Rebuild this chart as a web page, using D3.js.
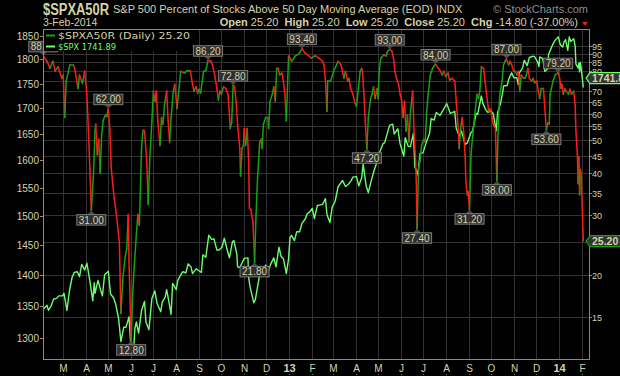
<!DOCTYPE html>
<html>
<head>
<meta charset="utf-8">
<script src="https://cdn.jsdelivr.net/npm/d3@7"></script>
<style>
  body { margin: 0; background: #000; }
  svg { display: block; }
</style>
</head>
<body>
<div id="chart"></div>
<script>
/* DATA */
// $SPX daily close (approx)
const spx = [
  ["2012-02-03",1345],["2012-02-08",1351],["2012-02-10",1343],["2012-02-14",1351],["2012-02-17",1361],
  ["2012-02-21",1362],["2012-02-24",1366],["2012-02-29",1366],["2012-03-02",1370],["2012-03-06",1343],
  ["2012-03-09",1371],["2012-03-13",1396],["2012-03-16",1404],["2012-03-20",1405],["2012-03-23",1397],
  ["2012-03-26",1417],["2012-03-30",1408],["2012-04-02",1419],["2012-04-05",1398],["2012-04-10",1358],
  ["2012-04-12",1387],["2012-04-13",1370],["2012-04-17",1391],["2012-04-20",1378],["2012-04-23",1366],
  ["2012-04-26",1400],["2012-05-01",1406],["2012-05-04",1369],["2012-05-08",1363],["2012-05-11",1353],
  ["2012-05-15",1330],["2012-05-18",1295],["2012-05-22",1317],["2012-05-25",1317],["2012-05-29",1333],
  ["2012-06-01",1278],["2012-06-04",1278],["2012-06-06",1315],["2012-06-08",1325],["2012-06-11",1308],
  ["2012-06-15",1343],["2012-06-19",1357],["2012-06-21",1325],["2012-06-25",1313],["2012-06-29",1362],
  ["2012-07-03",1374],["2012-07-06",1354],["2012-07-11",1341],["2012-07-13",1356],["2012-07-17",1364],
  ["2012-07-19",1376],["2012-07-23",1350],["2012-07-25",1337],["2012-07-27",1386],["2012-08-01",1376],
  ["2012-08-03",1391],["2012-08-08",1402],["2012-08-10",1405],["2012-08-14",1403],["2012-08-17",1418],
  ["2012-08-21",1413],["2012-08-23",1402],["2012-08-28",1410],["2012-08-31",1407],["2012-09-04",1404],
  ["2012-09-06",1433],["2012-09-10",1429],["2012-09-14",1466],["2012-09-18",1459],["2012-09-21",1460],
  ["2012-09-25",1441],["2012-09-28",1441],["2012-10-02",1446],["2012-10-05",1461],["2012-10-09",1441],
  ["2012-10-12",1428],["2012-10-16",1455],["2012-10-18",1457],["2012-10-22",1434],["2012-10-23",1413],
  ["2012-10-26",1412],["2012-11-01",1427],["2012-11-06",1428],["2012-11-07",1395],["2012-11-09",1380],
  ["2012-11-14",1355],["2012-11-16",1360],["2012-11-20",1387],["2012-11-23",1409],["2012-11-26",1406],
  ["2012-11-30",1416],["2012-12-04",1407],["2012-12-07",1418],["2012-12-11",1428],["2012-12-14",1413],
  ["2012-12-18",1446],["2012-12-21",1430],["2012-12-24",1427],["2012-12-28",1402],["2012-12-31",1426],
  ["2013-01-02",1462],["2013-01-04",1466],["2013-01-08",1457],["2013-01-11",1472],["2013-01-15",1472],
  ["2013-01-18",1486],["2013-01-23",1495],["2013-01-25",1503],["2013-01-29",1507],["2013-02-01",1513],
  ["2013-02-04",1495],["2013-02-08",1518],["2013-02-12",1519],["2013-02-15",1520],["2013-02-19",1530],
  ["2013-02-21",1502],["2013-02-25",1488],["2013-02-28",1515],["2013-03-04",1525],["2013-03-08",1551],
  ["2013-03-14",1563],["2013-03-18",1552],["2013-03-22",1556],["2013-03-26",1563],["2013-03-28",1569],
  ["2013-04-02",1570],["2013-04-05",1553],["2013-04-09",1568],["2013-04-11",1593],["2013-04-15",1553],
  ["2013-04-18",1541],["2013-04-22",1563],["2013-04-26",1582],["2013-04-30",1598],["2013-05-03",1614],
  ["2013-05-08",1632],["2013-05-10",1633],["2013-05-15",1658],["2013-05-17",1667],["2013-05-21",1669],
  ["2013-05-23",1650],["2013-05-28",1660],["2013-05-31",1631],["2013-06-05",1608],["2013-06-07",1643],
  ["2013-06-11",1626],["2013-06-14",1626],["2013-06-18",1651],["2013-06-20",1588],["2013-06-24",1573],
  ["2013-06-27",1613],["2013-07-01",1614],["2013-07-05",1632],["2013-07-10",1652],["2013-07-12",1680],
  ["2013-07-16",1677],["2013-07-19",1692],["2013-07-24",1686],["2013-07-26",1691],["2013-08-01",1706],
  ["2013-08-02",1710],["2013-08-07",1690],["2013-08-09",1691],["2013-08-13",1694],["2013-08-15",1661],
  ["2013-08-19",1646],["2013-08-22",1656],["2013-08-27",1630],["2013-08-30",1633],["2013-09-04",1653],
  ["2013-09-06",1655],["2013-09-11",1690],["2013-09-13",1688],["2013-09-18",1725],["2013-09-20",1710],
  ["2013-09-24",1697],["2013-09-27",1692],["2013-10-01",1695],["2013-10-04",1690],["2013-10-08",1656],
  ["2013-10-10",1692],["2013-10-14",1710],["2013-10-17",1733],["2013-10-18",1745],["2013-10-23",1746],
  ["2013-10-25",1759],["2013-10-29",1772],["2013-11-01",1762],["2013-11-05",1762],["2013-11-07",1748],
  ["2013-11-08",1771],["2013-11-13",1783],["2013-11-15",1798],["2013-11-19",1787],["2013-11-22",1804],
  ["2013-11-27",1807],["2013-11-29",1806],["2013-12-03",1795],["2013-12-05",1785],["2013-12-06",1805],
  ["2013-12-10",1802],["2013-12-13",1775],["2013-12-17",1781],["2013-12-18",1811],["2013-12-20",1818],
  ["2013-12-24",1833],["2013-12-27",1841],["2013-12-31",1848],["2014-01-03",1831],["2014-01-06",1826],
  ["2014-01-08",1837],["2014-01-10",1842],["2014-01-13",1819],["2014-01-15",1848],["2014-01-17",1838],
  ["2014-01-21",1844],["2014-01-23",1828],["2014-01-24",1790],["2014-01-27",1782],["2014-01-28",1792],
  ["2014-01-29",1774],["2014-01-30",1794],["2014-01-31",1783],["2014-02-03",1741.89]
];

// $SPXA50R, percent of stocks above their 50 day MA
const breadth = [
  ["2012-02-03",88.8],["2012-02-08",85.6],["2012-02-12",81.6],["2012-02-16",85.6],["2012-02-19",80.0],
  ["2012-02-23",82.5],["2012-02-28",76.2],["2012-03-01",78.0],["2012-03-03",58.4],["2012-03-05",74.8],
  ["2012-03-10",83.5],["2012-03-15",83.5],["2012-03-17",80.3],["2012-03-21",71.1],["2012-03-23",78.0],
  ["2012-03-27",73.6],["2012-03-30",80.0],["2012-04-02",68.4],["2012-04-04",54.2],["2012-04-06",41.3],
  ["2012-04-08",31.0],["2012-04-11",40.0],["2012-04-13",53.3],["2012-04-14",55.8],["2012-04-16",45.3],
  ["2012-04-18",50.4],["2012-04-20",40.0],["2012-04-22",52.0],["2012-04-24",57.1],["2012-04-27",59.4],
  ["2012-04-29",58.7],["2012-05-01",62.0],["2012-05-03",54.2],["2012-05-05",41.3],["2012-05-07",37.2],
  ["2012-05-09",33.7],["2012-05-12",30.2],["2012-05-16",24.9],["2012-05-18",15.4],["2012-05-21",19.9],
  ["2012-05-24",22.7],["2012-05-26",24.0],["2012-05-28",30.2],["2012-05-29",22.0],["2012-06-01",12.8],
  ["2012-06-03",17.7],["2012-06-05",21.0],["2012-06-08",26.4],["2012-06-10",30.2],["2012-06-12",28.0],
  ["2012-06-15",47.3],["2012-06-17",53.6],["2012-06-19",53.3],["2012-06-22",43.5],["2012-06-24",32.3],
  ["2012-06-26",43.5],["2012-06-29",57.1],["2012-07-01",69.9],["2012-07-03",65.2],["2012-07-05",69.9],
  ["2012-07-07",57.1],["2012-07-10",48.3],["2012-07-12",58.4],["2012-07-14",55.8],["2012-07-16",63.5],
  ["2012-07-19",69.9],["2012-07-21",57.1],["2012-07-23",49.4],["2012-07-25",58.4],["2012-07-28",69.9],
  ["2012-07-30",73.2],["2012-08-02",62.1],["2012-08-07",80.0],["2012-08-12",79.0],["2012-08-16",80.3],
  ["2012-08-20",80.3],["2012-08-23",73.2],["2012-08-25",69.9],["2012-08-28",72.0],["2012-08-30",69.0],
  ["2012-09-01",70.8],["2012-09-03",69.0],["2012-09-07",80.0],["2012-09-10",80.3],["2012-09-13",86.2],
  ["2012-09-17",85.6],["2012-09-19",83.5],["2012-09-22",78.0],["2012-09-25",71.1],["2012-09-27",65.7],
  ["2012-09-29",69.9],["2012-10-01",68.4],["2012-10-04",72.0],["2012-10-07",71.1],["2012-10-10",68.4],
  ["2012-10-12",59.4],["2012-10-13",54.2],["2012-10-15",56.4],["2012-10-17",72.8],["2012-10-19",72.0],
  ["2012-10-21",65.2],["2012-10-23",55.8],["2012-10-26",47.3],["2012-10-27",39.2],["2012-10-29",47.3],
  ["2012-10-31",48.3],["2012-11-01",54.2],["2012-11-03",48.3],["2012-11-05",54.2],["2012-11-07",43.5],
  ["2012-11-08",31.5],["2012-11-10",31.2],["2012-11-13",28.4],["2012-11-15",21.8],["2012-11-17",30.2],
  ["2012-11-19",38.6],["2012-11-22",49.4],["2012-11-24",50.4],["2012-11-25",47.3],["2012-11-27",55.8],
  ["2012-11-30",58.4],["2012-12-03",58.4],["2012-12-04",54.2],["2012-12-06",65.2],["2012-12-09",68.4],
  ["2012-12-11",72.0],["2012-12-13",65.2],["2012-12-15",81.6],["2012-12-17",81.6],["2012-12-19",78.0],
  ["2012-12-22",79.0],["2012-12-24",74.8],["2012-12-26",68.4],["2012-12-28",57.1],["2012-12-31",88.7],
  ["2013-01-02",87.4],["2013-01-04",85.6],["2013-01-07",87.4],["2013-01-09",88.7],["2013-01-12",89.5],
  ["2013-01-15",90.6],["2013-01-18",93.4],["2013-01-22",90.6],["2013-01-26",89.5],["2013-01-31",87.4],
  ["2013-02-04",88.7],["2013-02-06",88.7],["2013-02-10",87.4],["2013-02-15",85.6],["2013-02-17",83.5],
  ["2013-02-19",74.8],["2013-02-21",60.8],["2013-02-22",74.8],["2013-02-26",74.8],["2013-03-02",80.0],
  ["2013-03-06",83.5],["2013-03-08",85.6],["2013-03-12",83.5],["2013-03-14",80.0],["2013-03-16",76.2],
  ["2013-03-18",80.0],["2013-03-21",74.8],["2013-03-23",76.2],["2013-03-25",71.1],["2013-03-28",68.4],
  ["2013-03-31",64.4],["2013-04-02",63.0],["2013-04-05",73.2],["2013-04-07",80.0],["2013-04-09",81.6],
  ["2013-04-10",80.0],["2013-04-12",68.4],["2013-04-14",55.8],["2013-04-16",47.2],["2013-04-18",58.4],
  ["2013-04-21",66.4],["2013-04-23",68.4],["2013-04-25",72.0],["2013-04-27",66.4],["2013-04-30",71.1],
  ["2013-05-01",66.4],["2013-05-03",81.6],["2013-05-05",87.4],["2013-05-09",89.5],["2013-05-12",88.7],
  ["2013-05-14",91.6],["2013-05-17",93.0],["2013-05-20",91.6],["2013-05-22",87.4],["2013-05-24",80.0],
  ["2013-05-26",76.2],["2013-05-29",73.2],["2013-05-31",68.4],["2013-06-02",65.7],["2013-06-04",58.4],
  ["2013-06-06",65.2],["2013-06-08",53.3],["2013-06-10",59.4],["2013-06-12",49.4],["2013-06-14",60.8],
  ["2013-06-16",66.4],["2013-06-17",69.9],["2013-06-19",52.0],["2013-06-21",43.5],["2013-06-22",37.2],
  ["2013-06-23",27.4],["2013-06-25",41.3],["2013-06-27",43.5],["2013-06-29",48.3],["2013-07-02",50.4],
  ["2013-07-04",49.4],["2013-07-06",60.8],["2013-07-08",68.4],["2013-07-11",78.0],["2013-07-14",81.6],
  ["2013-07-18",84.0],["2013-07-21",82.0],["2013-07-24",80.5],["2013-07-27",78.0],["2013-07-29",80.0],
  ["2013-08-01",77.1],["2013-08-04",79.0],["2013-08-06",75.3],["2013-08-09",76.2],["2013-08-13",74.8],
  ["2013-08-15",65.2],["2013-08-18",53.3],["2013-08-19",47.3],["2013-08-21",54.2],["2013-08-23",58.4],
  ["2013-08-25",53.3],["2013-08-27",45.3],["2013-08-28",37.9],["2013-08-30",34.5],["2013-08-31",35.3],
  ["2013-09-02",31.2],["2013-09-04",45.3],["2013-09-05",48.3],["2013-09-07",53.3],["2013-09-09",59.4],
  ["2013-09-12",68.4],["2013-09-14",66.4],["2013-09-16",69.9],["2013-09-18",82.5],["2013-09-21",81.6],
  ["2013-09-23",74.8],["2013-09-25",68.4],["2013-09-28",60.8],["2013-09-30",62.0],["2013-10-02",59.4],
  ["2013-10-04",55.8],["2013-10-07",54.2],["2013-10-08",45.3],["2013-10-09",38.0],["2013-10-11",57.1],
  ["2013-10-13",68.4],["2013-10-16",74.8],["2013-10-18",83.5],["2013-10-20",85.6],["2013-10-22",87.0],
  ["2013-10-25",83.5],["2013-10-27",85.6],["2013-10-29",83.5],["2013-11-01",80.0],["2013-11-03",80.0],
  ["2013-11-05",78.0],["2013-11-07",80.0],["2013-11-09",69.9],["2013-11-11",78.0],["2013-11-14",76.2],
  ["2013-11-16",76.2],["2013-11-18",78.0],["2013-11-20",81.6],["2013-11-22",76.2],["2013-11-25",74.8],
  ["2013-11-27",76.2],["2013-11-29",73.9],["2013-12-02",74.8],["2013-12-04",69.9],["2013-12-06",66.4],
  ["2013-12-08",71.1],["2013-12-11",71.1],["2013-12-13",62.1],["2013-12-15",53.6],["2013-12-17",56.4],
  ["2013-12-19",55.8],["2013-12-20",68.4],["2013-12-24",74.8],["2013-12-27",78.0],["2013-12-31",79.2],
  ["2014-01-02",76.2],["2014-01-04",71.1],["2014-01-05",73.2],["2014-01-07",68.4],["2014-01-09",71.1],
  ["2014-01-11",69.9],["2014-01-14",68.4],["2014-01-16",70.8],["2014-01-18",68.4],["2014-01-21",69.9],
  ["2014-01-23",63.5],["2014-01-24",53.3],["2014-01-26",45.3],["2014-01-27",37.2],["2014-01-28",44.6],
  ["2014-01-29",34.5],["2014-01-30",41.0],["2014-01-31",40.0],["2014-02-03",25.2]
];

// swing labels drawn on the breadth line
const peakDates = ["2012-02-03","2012-05-01","2012-09-13","2012-10-17","2013-01-18","2013-05-17",
  "2013-07-18","2013-10-22","2013-12-31"];
const troughDates = ["2012-04-08","2012-06-01","2012-11-15","2013-04-16","2013-06-23","2013-09-02",
  "2013-10-09","2013-12-15"];

const spxTicks = [1300, 1350, 1400, 1450, 1500, 1550, 1600, 1650, 1700, 1750, 1800, 1850];
const pctTicks = [15, 20, 25, 30, 35, 40, 45, 50, 55, 60, 65, 70, 75, 80, 85, 90, 95];

const header = {
  symbol: "$SPXA50R",
  name: "S&P 500 Percent of Stocks Above 50 Day Moving Average (EOD)",
  exch: "INDX",
  date: "3-Feb-2014",
  quote: [["Open", "25.20"], ["High", "25.20"], ["Low", "25.20"], ["Close", "25.20"], ["Chg", "-14.80 (-37.00%)"]]
};

/* SETUP */
const width = 620, height = 376;
const margin = { top: 29, right: 31, bottom: 17, left: 43 };
const plotW = width - margin.left - margin.right,
  plotH = height - margin.top - margin.bottom;

const TXT = "#d6d2a8", GRID = "#333333", FRAME = "#8a8a8a";
const RED = "#ff1a1a", DKGREEN = "#13a313", LTGREEN = "#6cff6c";
const FONT = "'Liberation Sans', Arial, sans-serif";

const parseDate = d3.timeParse("%Y-%m-%d");
const spxData = spx.map(([d, v]) => ({ date: parseDate(d), value: v }));
const brData = breadth.map(([d, v]) => ({ date: parseDate(d), value: v }));
const spxLast = spxData[spxData.length - 1], brLast = brData[brData.length - 1];

const svg = d3.select("#chart")
  .append("svg")
  .attr("width", width)
  .attr("height", height)
  .style("background", "#000")
  .style("font-family", FONT);

// SCALES
const xScale = d3.scaleTime()
  .domain([parseDate("2012-02-03"), parseDate("2014-02-03")])
  .range([margin.left + 0.3, margin.left + plotW - 5.7]);

const ySpx = d3.scaleLog()
  .domain([1269, 1865])
  .range([margin.top + plotH, margin.top]);

const yPct = d3.scaleLog()
  .domain([11.3, 106.6])
  .range([margin.top + plotH, margin.top]);

// last value tags sit on the right axis (the $SPX one is lifted a little, as on the original)
const spxTagY = ySpx(spxLast.value) - 9.5;
const brTagY = yPct(brLast.value);

// GRID
const months = d3.timeMonth.range(parseDate("2012-03-01"), parseDate("2014-02-04"));

svg.append("g")
  .selectAll("line")
  .data(pctTicks)
  .join("line")
  .attr("x1", margin.left).attr("x2", margin.left + plotW)
  .attr("y1", d => Math.round(yPct(d)) + 0.5).attr("y2", d => Math.round(yPct(d)) + 0.5)
  .attr("stroke", GRID);

svg.append("g")
  .selectAll("line")
  .data(months)
  .join("line")
  .attr("x1", d => Math.round(xScale(d)) + 0.5).attr("x2", d => Math.round(xScale(d)) + 0.5)
  .attr("y1", margin.top).attr("y2", margin.top + plotH)
  .attr("stroke", GRID);

// CLIP
svg.append("clipPath").attr("id", "plotclip")
  .append("rect")
  .attr("x", margin.left).attr("y", margin.top)
  .attr("width", plotW).attr("height", plotH);

const plotG = svg.append("g").attr("clip-path", "url(#plotclip)");

// SPX LINE
plotG.append("path")
  .datum(spxData)
  .attr("d", d3.line().x(d => xScale(d.date)).y(d => ySpx(d.value)))
  .attr("fill", "none")
  .attr("stroke", LTGREEN)
  .attr("stroke-width", 1.4)
  .attr("stroke-linejoin", "round");

// BREADTH LINE, green when rising and red when falling
plotG.append("g")
  .selectAll("line")
  .data(d3.pairs(brData))
  .join("line")
  .attr("x1", d => xScale(d[0].date)).attr("y1", d => yPct(d[0].value))
  .attr("x2", d => xScale(d[1].date)).attr("y2", d => yPct(d[1].value))
  .attr("stroke", d => d[1].value >= d[0].value ? DKGREEN : RED)
  .attr("stroke-width", 1.5)
  .attr("stroke-linecap", "round");

// SWING LABELS
const brByDate = new Map(brData.map(d => [d3.timeFormat("%Y-%m-%d")(d.date), d]));
const swings = peakDates.map(k => ({ p: brByDate.get(k), up: true }))
  .concat(troughDates.map(k => ({ p: brByDate.get(k), up: false })));

const swingG = svg.append("g");
swings.forEach(s => {
  const px = xScale(s.p.date), py = yPct(s.p.value);
  const dir = s.up ? -1 : 1;
  const g = swingG.append("g");
  g.append("path")
    .attr("d", `M${px},${py} L${px - 4},${py + dir * 4} L${px + 4},${py + dir * 4} Z`)
    .attr("fill", "#4a4a4a");
  const boxTop = s.up ? py - 14.5 : py + 4;
  const rect = g.append("rect")
    .attr("y", boxTop).attr("height", 10.5)
    .attr("fill", "#2e2e2e").attr("stroke", "#7a7a7a").attr("stroke-width", 1);
  const t = g.append("text")
    .attr("x", px).attr("y", boxTop + 9)
    .attr("text-anchor", "middle")
    .style("font-size", "10px")
    .style("fill", TXT)
    .text(s.p.value.toFixed(2));
  const tw = t.node().getComputedTextLength();
  rect.attr("x", px - tw / 2 - 2).attr("width", tw + 4);
});

// LEGEND (black box over the plot corner)
const legend = svg.append("g");
legend.append("rect")
  .attr("x", margin.left + 1).attr("y", margin.top + 1)
  .attr("width", 148).attr("height", 21)
  .attr("fill", "#000");
const legendRows = [
  { color: DKGREEN, label: `${header.symbol} (Daily) ${brLast.value.toFixed(2)}`, text: TXT, w: 132 },
  { color: LTGREEN, label: `$SPX ${spxLast.value.toFixed(2)}`, text: LTGREEN, w: 58 }
];
legendRows.forEach((r, i) => {
  legend.append("line")
    .attr("x1", 46).attr("x2", 55)
    .attr("y1", 35.5 + i * 11).attr("y2", 35.5 + i * 11)
    .attr("stroke", r.color).attr("stroke-width", 2);
  legend.append("text")
    .attr("x", 58).attr("y", 39 + i * 11)
    .attr("textLength", r.w).attr("lengthAdjust", "spacingAndGlyphs")
    .style("font-family", "'DejaVu Sans', Verdana, sans-serif")
    .style("font-size", "9.5px")
    .style("fill", r.text)
    .text(r.label);
});

// FRAME
svg.append("rect")
  .attr("x", margin.left + 0.5).attr("y", margin.top + 0.5)
  .attr("width", plotW).attr("height", plotH)
  .attr("fill", "none").attr("stroke", FRAME);

// LEFT AXIS ($SPX)
const leftAxis = svg.append("g");
spxTicks.forEach(v => {
  const y = Math.round(ySpx(v)) + 0.5;
  leftAxis.append("line").attr("x1", margin.left - 3).attr("x2", margin.left)
    .attr("y1", y).attr("y2", y).attr("stroke", FRAME);
  leftAxis.append("text")
    .attr("x", margin.left - 4).attr("y", y + 3.5)
    .attr("text-anchor", "end")
    .style("font-size", "10px").style("fill", TXT)
    .text(v);
});

// RIGHT AXIS (percent), labels under a value tag are hidden
const rightAxis = svg.append("g");
pctTicks.forEach(v => {
  const y = Math.round(yPct(v)) + 0.5;
  rightAxis.append("line").attr("x1", margin.left + plotW).attr("x2", margin.left + plotW + 3)
    .attr("y1", y).attr("y2", y).attr("stroke", FRAME);
  if (Math.abs(y - spxTagY) < 6 || Math.abs(y - brTagY) < 6) return;
  rightAxis.append("text")
    .attr("x", margin.left + plotW + 3).attr("y", y + 3.2)
    .style("font-size", "9px").style("fill", TXT)
    .text(v);
});

// BOTTOM AXIS (months)
const bottomAxis = svg.append("g");
months.forEach(m => {
  const x = Math.round(xScale(m)) + 0.5;
  const isYear = m.getMonth() === 0;
  bottomAxis.append("text")
    .attr("x", x).attr("y", 372)
    .attr("text-anchor", "middle")
    .style("font-size", isYear ? "11px" : "10px")
    .style("font-weight", isYear ? "bold" : "normal")
    .style("fill", TXT)
    .text(isYear ? d3.timeFormat("%y")(m) : d3.timeFormat("%b")(m)[0]);
  bottomAxis.append("rect")
    .attr("x", x - 0.5).attr("y", 374).attr("width", 1).attr("height", 1)
    .attr("fill", "#777");
});

// LAST VALUE TAGS
function valueTag(y, label, stroke) {
  const g = svg.append("g");
  const x0 = margin.left + plotW - 3;
  g.append("path")
    .attr("d", `M${x0},${y} L${x0 + 4},${y - 5.5} L${width + 5},${y - 5.5} L${width + 5},${y + 5.5} L${x0 + 4},${y + 5.5} Z`)
    .attr("fill", "#333").attr("stroke", stroke).attr("stroke-width", 1.2);
  g.append("text")
    .attr("x", x0 + 6).attr("y", y + 4)
    .style("font-size", "10.5px").style("font-weight", "bold").style("fill", TXT)
    .text(label);
}
valueTag(spxTagY, spxLast.value.toFixed(2), LTGREEN);
valueTag(brTagY, brLast.value.toFixed(2), DKGREEN);

// HEADER
svg.append("text")
  .attr("x", 43).attr("y", 15)
  .attr("textLength", 66).attr("lengthAdjust", "spacingAndGlyphs")
  .style("font-size", "16px").style("font-weight", "bold")
  .style("fill", TXT)
  .text(header.symbol);

svg.append("text")
  .attr("x", 113).attr("y", 13)
  .style("font-size", "11px").style("fill", TXT)
  .text(`${header.name} ${header.exch}`);

svg.append("text")
  .attr("x", 588).attr("y", 13)
  .attr("text-anchor", "end")
  .style("font-size", "11px").style("fill", "#8c8c8c")
  .text("\u00A9 StockCharts.com");

svg.append("text")
  .attr("x", 43).attr("y", 26)
  .style("font-size", "10.5px").style("fill", TXT)
  .text(header.date);

const quote = svg.append("text")
  .attr("x", 578).attr("y", 26)
  .attr("text-anchor", "end")
  .attr("xml:space", "preserve")
  .style("font-size", "11px").style("fill", TXT);
header.quote.forEach(([k, v], i) => {
  quote.append("tspan").style("font-weight", "bold").text((i ? "  " : "") + k + " ");
  quote.append("tspan").text(v);
});

svg.append("path")
  .attr("d", "M582,22 L588,22 L585,25.5 Z")
  .attr("fill", RED);
</script>
</body>
</html>
